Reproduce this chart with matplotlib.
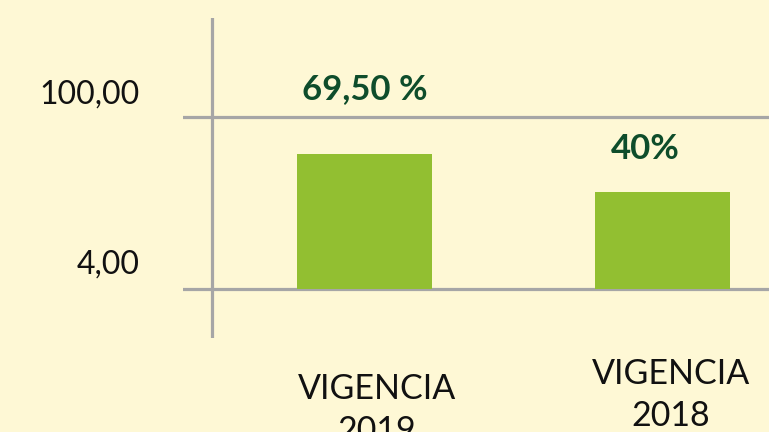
import matplotlib
matplotlib.use("Agg")
import matplotlib.pyplot as plt
from matplotlib.transforms import ScaledTranslation

plt.rcParams['font.family'] = ['Lato', 'DejaVu Sans']

# Data
categories = ["VIGENCIA\n2019", "VIGENCIA\n2018"]
bar_tops = [79.3, 58.1]          # bar tops as read against the y axis ticks
bar_base = 4.0
value_labels = ["69,50 %", "40%"]
y_ticks = [4.0, 100.0]
y_tick_labels = ["4,00", "100,00"]

BG = "#FEF8D5"
BAR = "#92BF31"
GRID = "#A6A6A6"
LABEL = "#0E4D2B"

fig = plt.figure(figsize=(7.69, 4.32), dpi=100, facecolor=BG)
ax = fig.add_axes([183 / 769, 94 / 432, 586 / 769, 320 / 432])
ax.set_facecolor(BG)

x = list(range(len(categories)))
heights = [t - bar_base for t in bar_tops]
ax.bar(x, heights, bottom=bar_base, width=0.453, color=BAR, zorder=3)

ax.set_xlim(-0.609, 1.357)
ax.set_ylim(-23.35, 155.26)

for s in ax.spines.values():
    s.set_visible(False)

# horizontal grid lines and vertical axis line
for yt in y_ticks:
    ax.axhline(yt, color=GRID, lw=2.3, zorder=2)
ax.axvline(-0.512, color=GRID, lw=2.3, zorder=2)

# y tick labels
ax.set_yticks(y_ticks)
ax.set_yticklabels(y_tick_labels)
ax.tick_params(axis='y', length=0, pad=31, labelsize=23, labelcolor="#111111")
for lab, dy in zip(ax.get_yticklabels(), [24, 22]):
    lab.set_verticalalignment('center')
    lab.set_transform(lab.get_transform() + ScaledTranslation(0, dy / 100, fig.dpi_scale_trans))

# x tick labels
ax.set_xticks(x)
ax.set_xticklabels(categories)
ax.tick_params(axis='x', length=0, pad=0, labelsize=24.5, labelcolor="#111111")
for lab, (dx, dy) in zip(ax.get_xticklabels(), [(12, -35), (8, -20)]):
    lab.set_linespacing(1.4)
    lab.set_transform(lab.get_transform() + ScaledTranslation(dx / 100, dy / 100, fig.dpi_scale_trans))

# value labels
for xi, top, txt, (dx, dy) in zip(x, bar_tops, value_labels, [(0, 65), (-17, 43)]):
    ax.annotate(txt, xy=(xi, top), xytext=(dx, dy), textcoords='offset pixels',
                ha='center', va='center', fontsize=25, fontweight='bold', color=LABEL)

fig.savefig("out.png", dpi=100, facecolor=BG)
